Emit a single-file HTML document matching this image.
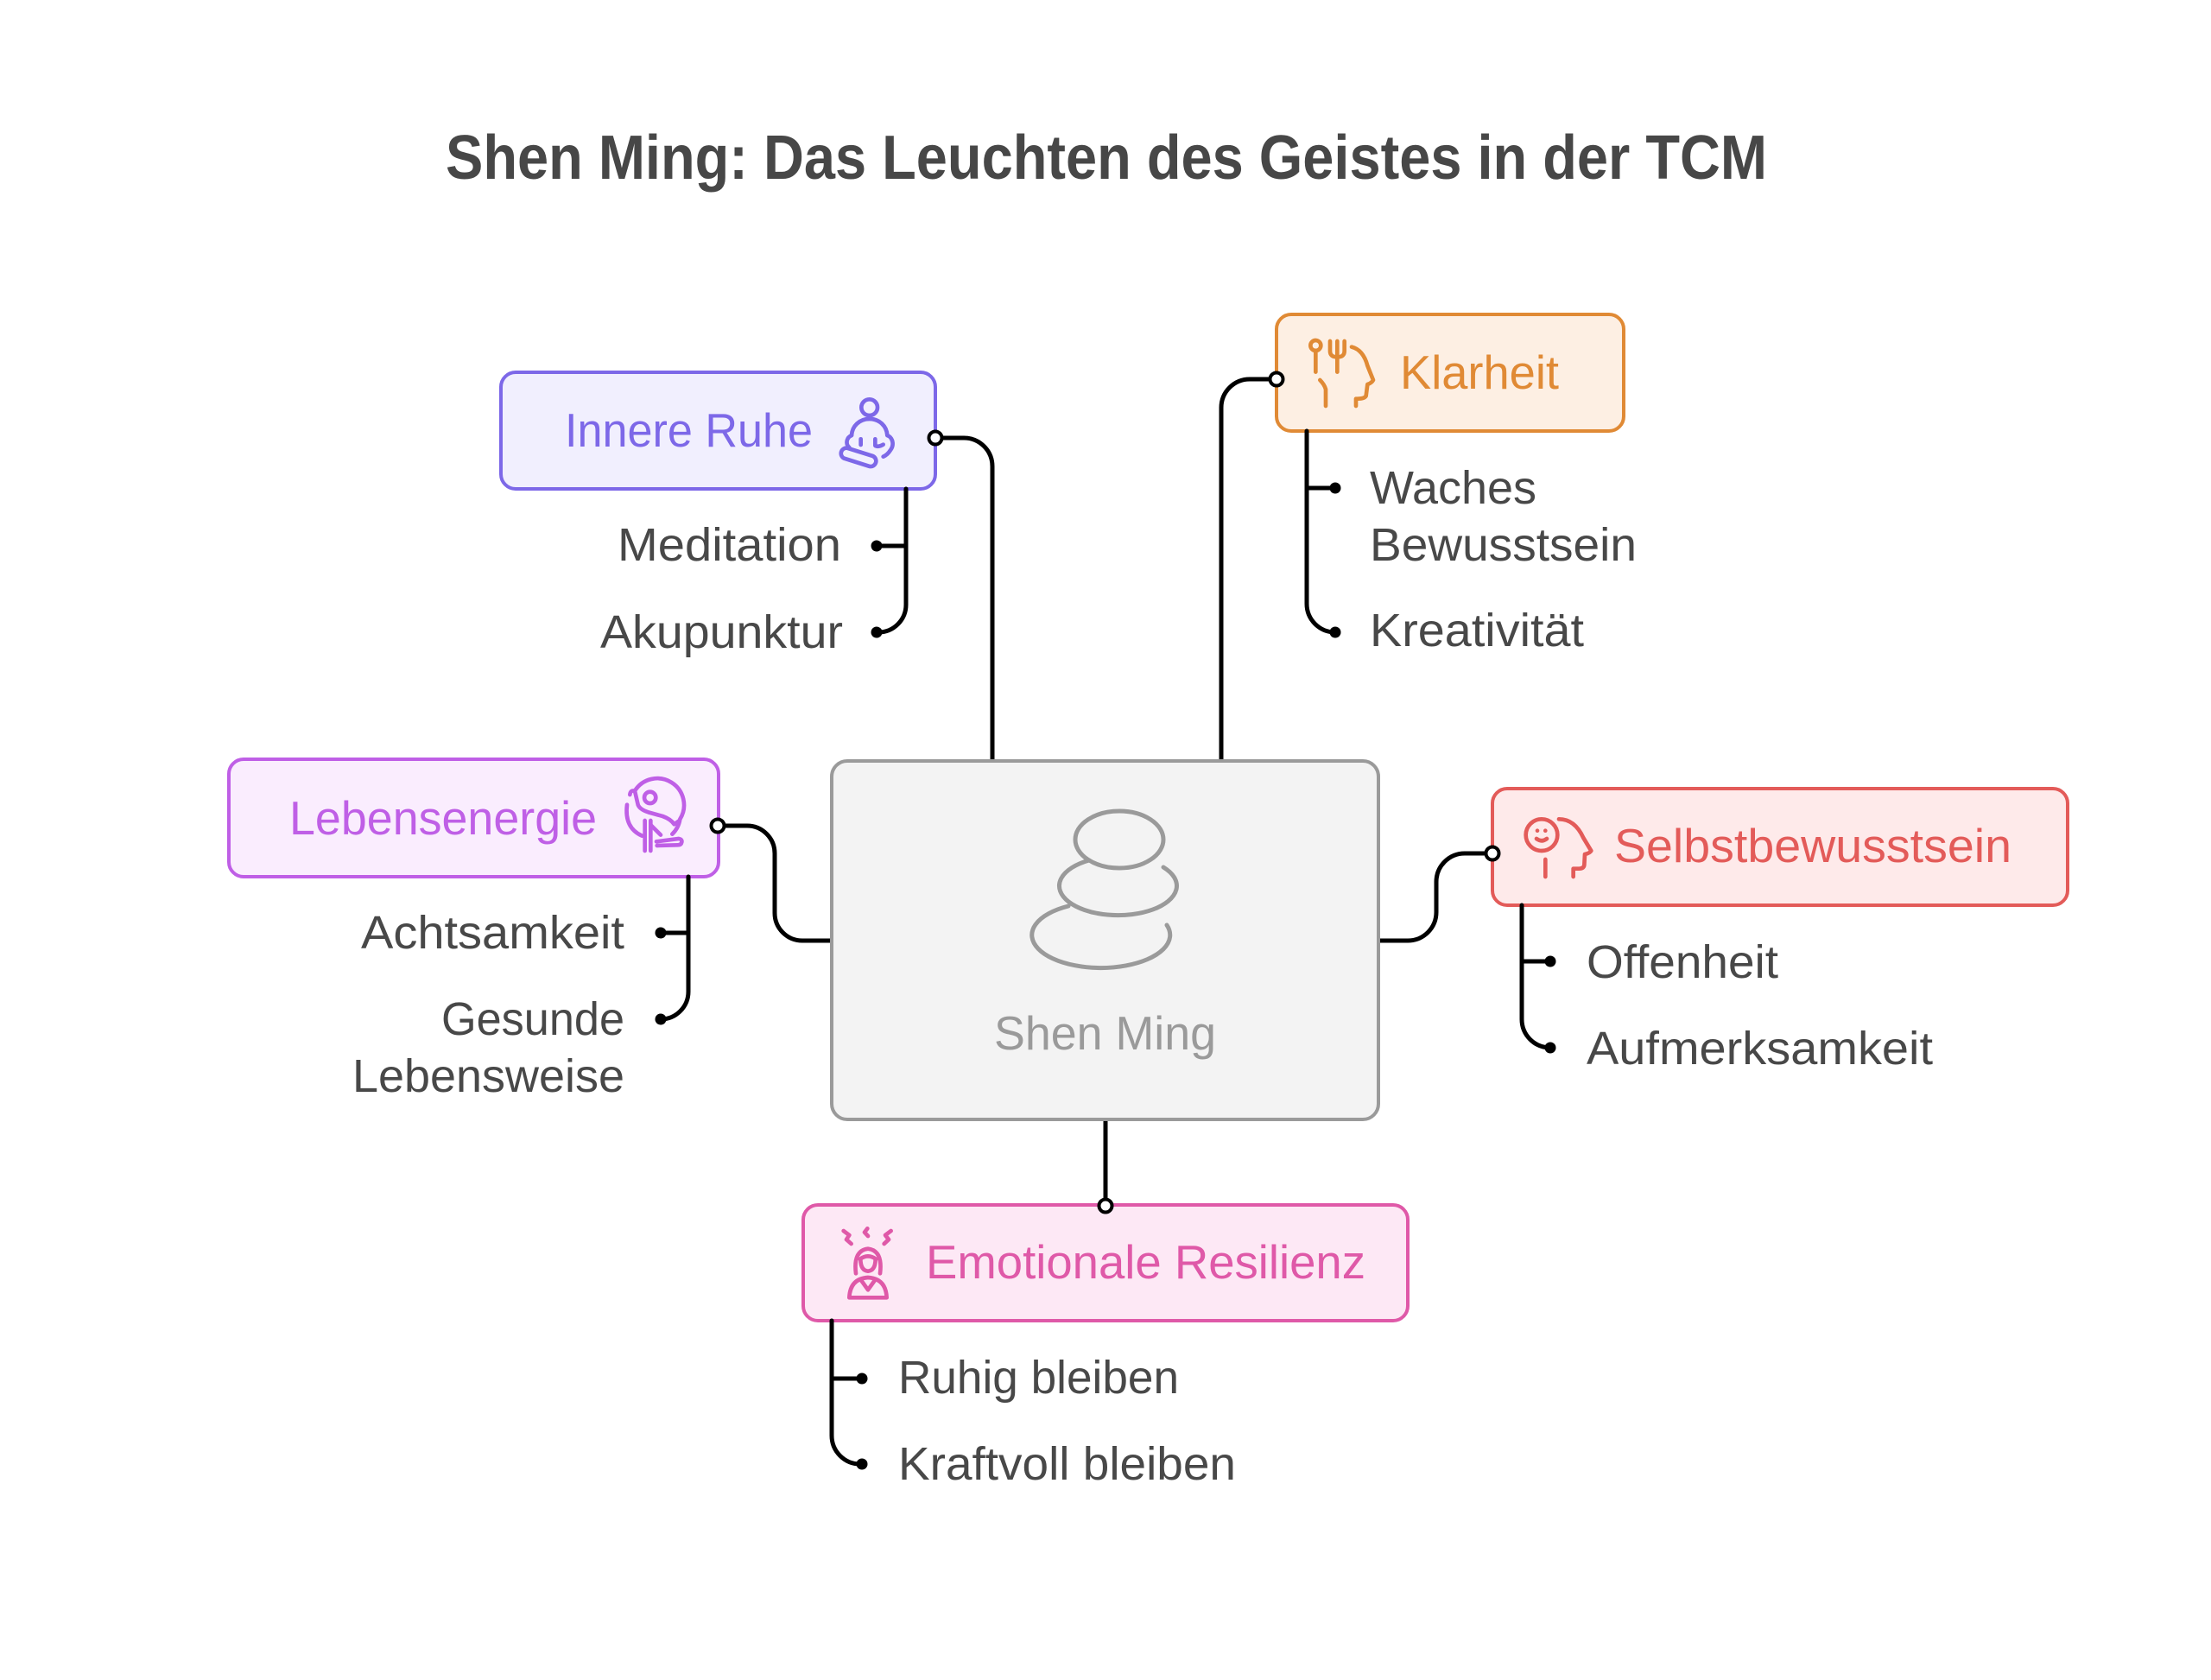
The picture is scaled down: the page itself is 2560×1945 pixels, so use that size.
<!DOCTYPE html>
<html>
<head>
<meta charset="utf-8">
<style>
  html, body { margin: 0; padding: 0; background: #ffffff; }
  svg { display: block; }
  text { font-family: "Liberation Sans", "DejaVu Sans", sans-serif; }
</style>
</head>
<body>
<svg width="2560" height="1945" viewBox="0 0 2560 1945" xmlns="http://www.w3.org/2000/svg">
  <rect x="0" y="0" width="2560" height="1945" fill="#ffffff"/>

  <!-- Title -->
  <text x="516" y="207" font-size="72" font-weight="bold" fill="#474747" textLength="1530" lengthAdjust="spacingAndGlyphs">Shen Ming: Das Leuchten des Geistes in der TCM</text>

  <!-- Main connectors -->
  <g fill="none" stroke="#000" stroke-width="5" stroke-linecap="round" stroke-linejoin="round">
    <!-- Innere Ruhe -->
    <path d="M1091,507 H1116 A33,33 0 0 1 1149,540 V881"/>
    <!-- Klarheit -->
    <path d="M1470,439 H1447 A33,33 0 0 0 1414,472 V881"/>
    <!-- Lebensenergie -->
    <path d="M839,956 H865 A32,32 0 0 1 897,988 V1057 A32,32 0 0 0 929,1089 H963"/>
    <!-- Selbstbewusstsein -->
    <path d="M1596,1089 H1630 A33,33 0 0 0 1663,1056 V1021 A33,33 0 0 1 1696,988 H1720"/>
    <!-- Emotionale -->
    <path d="M1280,1296 V1388"/>
  </g>

  <!-- Center box -->
  <rect x="963" y="881" width="633" height="415" rx="18" ry="18" fill="#f3f3f3" stroke="#9a9a9a" stroke-width="4"/>
  <g fill="none" stroke="#9a9a9a" stroke-width="5" stroke-linecap="round">
    <ellipse cx="1296" cy="972" rx="51" ry="33"/>
    <path d="M1261,996 A68,34 0 1 0 1347,1004"/>
    <path d="M1237,1049 A80,38 0 1 0 1351,1071"/>
  </g>
  <text x="1151" y="1215" font-size="55" fill="#9a9a9a" textLength="257" lengthAdjust="spacingAndGlyphs">Shen Ming</text>

  <!-- Innere Ruhe box -->
  <rect x="580" y="431" width="503" height="135" rx="17" ry="17" fill="#f1effe" stroke="#7d68e8" stroke-width="4"/>
  <text x="654" y="517" font-size="55" fill="#7d68e8" textLength="287" lengthAdjust="spacingAndGlyphs">Innere Ruhe</text>
  <g transform="translate(960,440) scale(0.3333)" fill="none" stroke="#7d68e8" stroke-width="14" stroke-linecap="round" stroke-linejoin="round">
    <circle cx="140" cy="95" r="28"/>
    <path d="M78,192 C80,160 105,135 140,135 C175,135 200,160 202,192"/>
    <path d="M78,192 C60,200 56,222 70,234"/>
    <path d="M202,192 C222,200 226,225 214,242 C206,255 198,262 188,266"/>
    <path d="M110,205 V225"/>
    <path d="M160,205 V228 Q172,234 188,224"/>
    <path d="M62,236 L152,264 A19,19 0 0 1 141,300 L52,272 A19,19 0 0 1 62,236 Z"/>
  </g>
  <g fill="none" stroke="#000" stroke-width="5" stroke-linecap="round">
    <path d="M1049,566 V700 A32,32 0 0 1 1017,732 H1015"/>
    <path d="M1049,632 H1015"/>
  </g>
  <circle cx="1015" cy="632" r="6.5" fill="#000"/>
  <circle cx="1015" cy="732" r="6.5" fill="#000"/>
  <text x="715" y="649" font-size="54" fill="#484848" textLength="259" lengthAdjust="spacingAndGlyphs">Meditation</text>
  <text x="695" y="750" font-size="54" fill="#484848" textLength="281" lengthAdjust="spacingAndGlyphs">Akupunktur</text>
  <circle cx="1083" cy="507" r="7.5" fill="#fff" stroke="#000" stroke-width="4"/>

  <!-- Klarheit box -->
  <rect x="1478" y="364" width="402" height="135" rx="17" ry="17" fill="#fdefe3" stroke="#e08a35" stroke-width="4"/>
  <text x="1621" y="450" font-size="55" fill="#e08a35" textLength="184" lengthAdjust="spacingAndGlyphs">Klarheit</text>
  <g transform="translate(1500,380) scale(0.3333)" fill="none" stroke="#e08a35" stroke-width="14" stroke-linecap="round" stroke-linejoin="round">
    <circle cx="70" cy="60" r="18"/>
    <path d="M70,78 V152"/>
    <path d="M120,45 V80 Q120,100 145,100 Q170,100 170,80 V45"/>
    <path d="M145,45 V152"/>
    <path d="M85,180 Q100,195 105,212 V270"/>
    <path d="M195,65 Q235,75 250,130 L270,180 Q265,190 250,195 L245,235 Q240,245 215,245 L210,245 V270"/>
  </g>
  <g fill="none" stroke="#000" stroke-width="5" stroke-linecap="round">
    <path d="M1513,499 V699 A33,33 0 0 0 1546,732"/>
    <path d="M1513,565 H1546"/>
  </g>
  <circle cx="1546" cy="565" r="6.5" fill="#000"/>
  <circle cx="1546" cy="732" r="6.5" fill="#000"/>
  <text x="1586" y="583" font-size="54" fill="#484848" textLength="193" lengthAdjust="spacingAndGlyphs">Waches</text>
  <text x="1586" y="649" font-size="54" fill="#484848" textLength="309" lengthAdjust="spacingAndGlyphs">Bewusstsein</text>
  <text x="1586" y="748" font-size="54" fill="#484848" textLength="248" lengthAdjust="spacingAndGlyphs">Kreativität</text>
  <circle cx="1478" cy="439" r="7.5" fill="#fff" stroke="#000" stroke-width="4"/>

  <!-- Lebensenergie box -->
  <rect x="265" y="879" width="567" height="136" rx="17" ry="17" fill="#faedfe" stroke="#bf5fe6" stroke-width="4"/>
  <text x="335" y="966" font-size="55" fill="#bf5fe6" textLength="356" lengthAdjust="spacingAndGlyphs">Lebensenergie</text>
  <g transform="translate(710,895) scale(0.3333)" fill="none" stroke="#bf5fe6" stroke-width="14" stroke-linecap="round" stroke-linejoin="round">
    <path d="M75,62 A92,92 0 0 1 232,160 A92,92 0 0 1 205,212"/>
    <path d="M48,110 Q38,190 100,218"/>
    <circle cx="128" cy="85" r="20"/>
    <path d="M58,75 Q60,58 75,62 L86,110 Q92,126 122,136 L172,150 Q200,160 212,178 L230,165"/>
    <path d="M110,165 V270"/>
    <path d="M130,165 L130,270"/>
    <path d="M130,180 L165,215"/>
    <path d="M150,238 L228,228 Q240,230 238,240 Q236,250 224,250 L152,252"/>
  </g>
  <g fill="none" stroke="#000" stroke-width="5" stroke-linecap="round">
    <path d="M797,1015 V1148 A32,32 0 0 1 765,1180"/>
    <path d="M797,1080 H765"/>
  </g>
  <circle cx="765" cy="1080" r="6.5" fill="#000"/>
  <circle cx="765" cy="1180" r="6.5" fill="#000"/>
  <text x="418" y="1098" font-size="54" fill="#484848" textLength="305" lengthAdjust="spacingAndGlyphs">Achtsamkeit</text>
  <text x="511" y="1198" font-size="54" fill="#484848" textLength="212" lengthAdjust="spacingAndGlyphs">Gesunde</text>
  <text x="408" y="1264" font-size="54" fill="#484848" textLength="315" lengthAdjust="spacingAndGlyphs">Lebensweise</text>
  <circle cx="831" cy="956" r="7.5" fill="#fff" stroke="#000" stroke-width="4"/>

  <!-- Selbstbewusstsein box -->
  <rect x="1728" y="913" width="666" height="135" rx="17" ry="17" fill="#feeaea" stroke="#e35b59" stroke-width="4"/>
  <text x="1869" y="998" font-size="55" fill="#e35b59" textLength="460" lengthAdjust="spacingAndGlyphs">Selbstbewusstsein</text>
  <g transform="translate(1755,935) scale(0.3333)" fill="none" stroke="#e35b59" stroke-width="14" stroke-linecap="round" stroke-linejoin="round">
    <circle cx="90" cy="95" r="55"/>
    <path d="M72,108 Q90,122 108,108"/>
    <path d="M103,180 V240"/>
    <path d="M150,40 Q205,40 235,105 L262,150 Q258,158 240,162 L238,200 Q236,212 220,212 L200,212 V240"/>
  </g>
  <g fill="#e35b59">
    <circle cx="1780" cy="961.7" r="2.3"/>
    <circle cx="1789.3" cy="961.7" r="2.3"/>
  </g>
  <g fill="none" stroke="#000" stroke-width="5" stroke-linecap="round">
    <path d="M1762,1048 V1180 A33,33 0 0 0 1795,1213"/>
    <path d="M1762,1113 H1795"/>
  </g>
  <circle cx="1795" cy="1113" r="6.5" fill="#000"/>
  <circle cx="1795" cy="1213" r="6.5" fill="#000"/>
  <text x="1837" y="1132" font-size="54" fill="#484848" textLength="222" lengthAdjust="spacingAndGlyphs">Offenheit</text>
  <text x="1837" y="1232" font-size="54" fill="#484848" textLength="401" lengthAdjust="spacingAndGlyphs">Aufmerksamkeit</text>
  <circle cx="1728" cy="988" r="7.5" fill="#fff" stroke="#000" stroke-width="4"/>

  <!-- Emotionale Resilienz box -->
  <rect x="930" y="1395" width="700" height="134" rx="17" ry="17" fill="#fde8f5" stroke="#df59a8" stroke-width="4"/>
  <text x="1072" y="1480" font-size="55" fill="#df59a8" textLength="509" lengthAdjust="spacingAndGlyphs">Emotionale Resilienz</text>
  <g transform="translate(965,1415) scale(0.3333)" fill="none" stroke="#df59a8" stroke-width="14" stroke-linecap="round" stroke-linejoin="round">
    <path d="M35,30 L55,45 L45,60 L62,75"/>
    <path d="M118,22 L108,35 L120,48"/>
    <path d="M200,30 L180,45 L192,60 L176,75"/>
    <path d="M78,178 Q68,98 120,92 Q172,98 162,178"/>
    <path d="M92,128 Q120,108 148,128"/>
    <path d="M94,130 Q95,168 120,170 Q145,168 146,130"/>
    <path d="M55,262 Q58,196 120,192 Q182,196 185,262 Z"/>
    <path d="M95,200 L120,235 L145,200"/>
  </g>
  <g fill="none" stroke="#000" stroke-width="5" stroke-linecap="round">
    <path d="M963,1529 V1662 A33,33 0 0 0 996,1695"/>
    <path d="M963,1596 H998"/>
  </g>
  <circle cx="998" cy="1596" r="6.5" fill="#000"/>
  <circle cx="998" cy="1695" r="6.5" fill="#000"/>
  <text x="1040" y="1613" font-size="54" fill="#484848" textLength="325" lengthAdjust="spacingAndGlyphs">Ruhig bleiben</text>
  <text x="1040" y="1713" font-size="54" fill="#484848" textLength="391" lengthAdjust="spacingAndGlyphs">Kraftvoll bleiben</text>
  <circle cx="1280" cy="1396" r="7.5" fill="#fff" stroke="#000" stroke-width="4"/>
</svg>
</body>
</html>
